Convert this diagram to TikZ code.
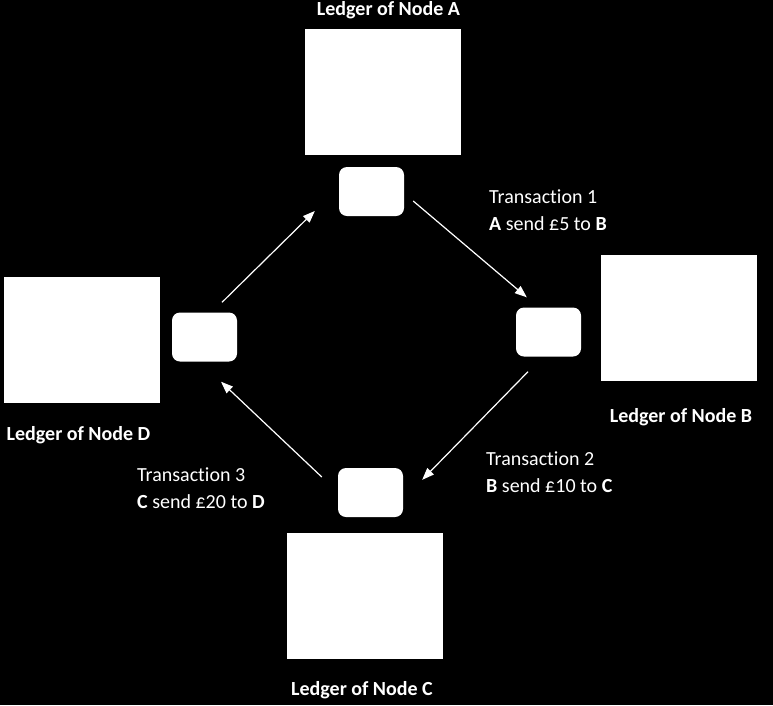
\documentclass[tikz,border=0pt]{standalone}
\usepackage{fontspec}
\setmainfont{Carlito}[Ligatures={NoCommon}]
\usetikzlibrary{arrows.meta}
\begin{document}
\begin{tikzpicture}[x=1pt,y=-1pt,
  ledger/.style={fill=white,draw=none,minimum width=156pt,minimum height=126pt,inner sep=0pt},
  peer/.style={fill=white,draw=none,rounded corners=8pt,minimum width=65pt,minimum height=49pt,inner sep=0pt},
  lbl/.style={text=white,font=\fontsize{20}{24}\selectfont\bfseries,anchor=base,inner sep=0pt},
  txn/.style={text=white,font=\fontsize{20}{27}\selectfont,align=left,anchor=north west,inner sep=0pt},
  arr/.style={draw=white,line width=1.2pt,-{Triangle[length=12pt,width=9pt]}}]
\fill[black] (0,0) rectangle (773,705);
\useasboundingbox (0,0) rectangle (773,705);
% ledgers
\node[ledger] (LA) at (383,92) {};
\node[ledger] (LB) at (679,317.5) {};
\node[ledger] (LC) at (365,596) {};
\node[ledger] (LD) at (82,339.5) {};
% peers
\node[peer] (nA) at (371.5,191.5) {};
\node[peer] (nB) at (548.5,332) {};
\node[peer] (nC) at (370.5,492.5) {};
\node[peer] (nD) at (204.5,337) {};
% ledger labels
\node[lbl] (tA) at (388.5,15) {Ledger of Node A};
\node[lbl] (tB) at (681,422) {Ledger of Node B};
\node[lbl] (tC) at (362,695) {Ledger of Node C};
\node[lbl] (tD) at (78.5,440) {Ledger of Node D};
% transactions
\node[txn] (x1) at (489,190) {Transaction 1\\\textbf{A} send £5 to \textbf{B}};
\node[txn] (x2) at (486,452) {Transaction 2\\\textbf{B} send £10 to \textbf{C}};
\node[txn] (x3) at (137,468) {Transaction 3\\\textbf{C} send £20 to \textbf{D}};
% arrows
\draw[arr] ([shift={(9,9.5)}]nA.east) -- ([shift={(11,-10)}]nB.north west);
\draw[arr] ([shift={(-20.5,15)}]nB.south) -- ([shift={(19,12)}]nC.north east);
\draw[arr] ([shift={(-16,-15.5)}]nC.west) -- ([shift={(16.5,20)}]nD.south);
\draw[arr] ([shift={(17.5,-10)}]nD.north) -- ([shift={(-24,19.5)}]nA.west);
\end{tikzpicture}
\end{document}
